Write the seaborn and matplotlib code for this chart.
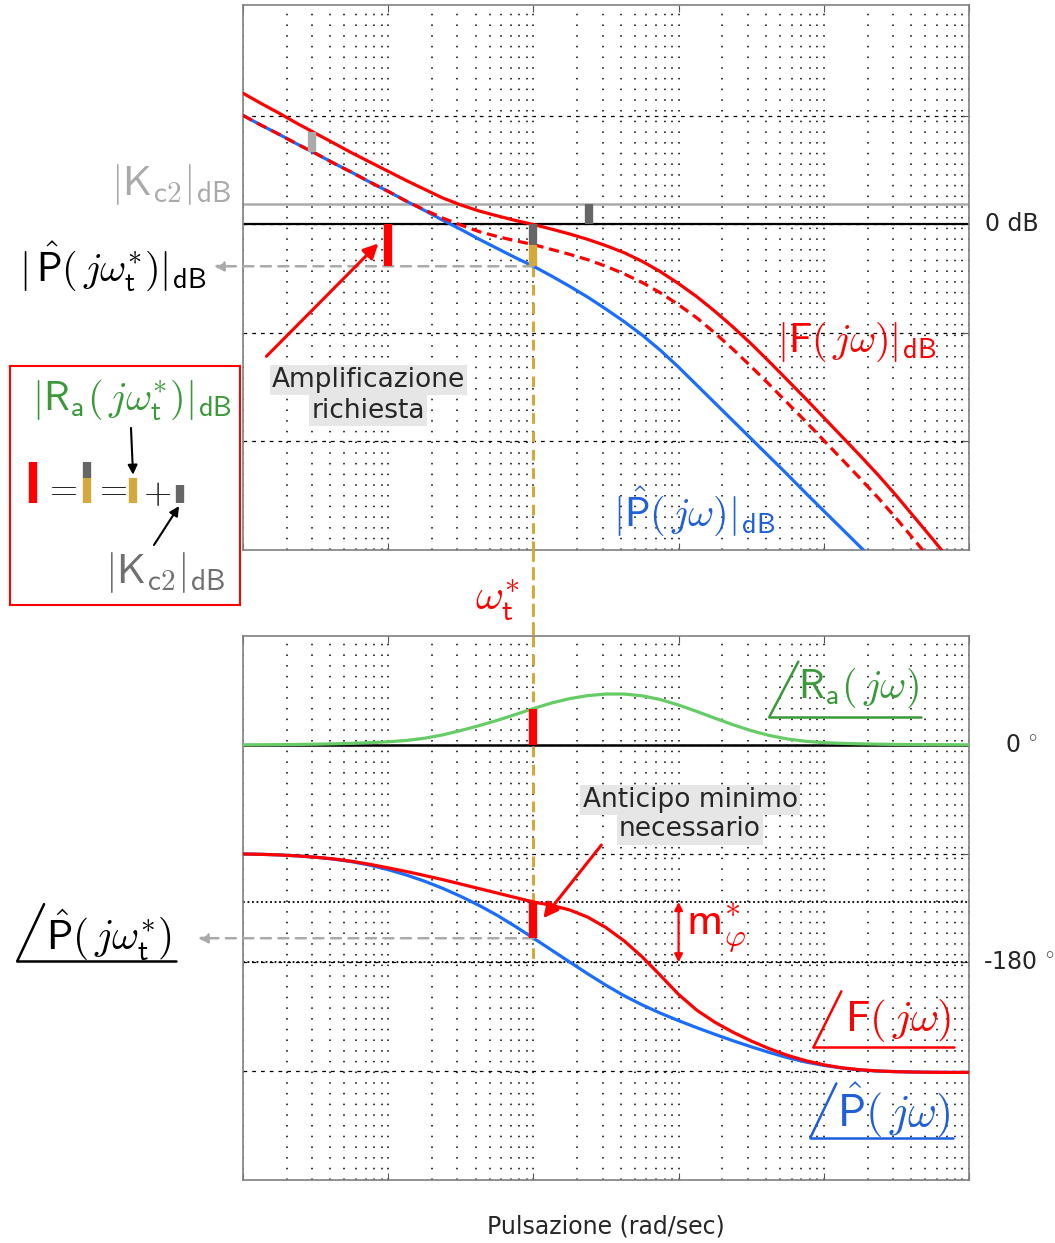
import numpy as np
import matplotlib
matplotlib.use("Agg")
import matplotlib.pyplot as plt
import matplotlib.transforms as mtrans
from matplotlib.ticker import LogLocator
from matplotlib.patches import ConnectionPatch
import seaborn as sns

# values, eighth of a decade apart (rad/sec)
w = [0.01, 0.01334, 0.01778, 0.02371, 0.03162, 0.04217, 0.05623, 0.07499,
     0.1, 0.1334, 0.1778, 0.2371, 0.3162, 0.4217, 0.5623, 0.7499,
     1.0, 1.334, 1.778, 2.371, 3.162, 4.217, 5.623, 7.499,
     10.0, 13.34, 17.78, 23.71, 31.62, 42.17, 56.23, 74.99,
     100.0, 133.4, 177.8, 237.1, 316.2, 421.7, 562.3, 749.9, 1000.0]

mag_P = [20.1, 18.3, 16.6, 14.8, 13.1, 11.3, 9.6, 7.8,
         6.1, 4.3, 2.6, 0.8, -0.9, -2.7, -4.4, -6.1,
         -7.7, -9.5, -11.4, -13.4, -15.6, -17.9, -20.4, -23.2,
         -26.3, -29.6, -32.9, -36.2, -39.5, -42.8, -46.1, -49.5,
         -52.8, -56.1, -59.4, -62.7, -66.0, -69.3, -72.6, -75.9, -79.2]
mag_F = [24.2, 22.3, 20.5, 18.6, 16.8, 15.0, 13.2, 11.5,
         9.8, 8.1, 6.5, 4.9, 3.6, 2.5, 1.6, 0.75,
         0.0, -0.85, -1.75, -2.75, -3.9, -5.2, -6.8, -8.7,
         -10.9, -13.3, -16.0, -18.9, -22.0, -25.3, -28.7, -32.1,
         -35.6, -39.1, -42.6, -46.2, -50.0, -54.0, -58.0, -62.1, -66.3]
mag_F_noK = [20.1, 18.3, 16.6, 14.8, 13.1, 11.3, 9.6, 7.8,
             6.1, 4.3, 2.7, 1.2, -0.1, -1.3, -2.2, -3.0,
             -3.7, -4.6, -5.5, -6.5, -7.7, -9.1, -10.7, -12.6,
             -14.8, -17.2, -20.0, -23.0, -26.2, -29.5, -32.9, -36.3,
             -39.8, -43.3, -46.8, -50.4, -54.2, -58.2, -62.2, -66.3, -70.5]

phase_P = [-90.3, -90.6, -91.1, -91.9, -93.0, -94.6, -96.7, -99.6,
           -103.3, -107.7, -112.8, -118.7, -125.4, -132.8, -141.0, -150.2,
           -159.9, -169.8, -179.7, -189.5, -198.9, -207.6, -215.2, -222.0,
           -228.2, -234.0, -239.5, -244.8, -249.8, -254.5, -258.8, -262.4,
           -265.2, -267.4, -269.0, -269.9, -270.4, -270.7, -270.9, -271.0, -271.0]
phase_F = [-90.3, -90.6, -91.1, -91.9, -93.0, -94.4, -96.4, -98.9,
           -101.8, -104.8, -108.1, -111.5, -115.2, -118.9, -122.6, -126.3,
           -130.0, -132.8, -136.6, -142.6, -151.2, -162.2, -175.5, -190.8,
           -206.5, -219.5, -229.5, -237.8, -245.0, -251.4, -256.9, -261.3,
           -264.7, -267.2, -268.8, -269.8, -270.4, -270.7, -270.9, -271.0, -271.0]
phase_Ra = [0.0, 0.05, 0.15, 0.3, 0.5, 0.8, 1.2, 1.8,
            2.5, 3.6, 5.4, 8.2, 11.8, 15.8, 20.2, 25.0,
            30.0, 34.6, 38.2, 40.7, 42.0, 42.0, 40.5, 37.4,
            32.9, 27.6, 22.0, 16.6, 11.7, 7.7, 4.8, 2.9,
            1.8, 1.2, 0.8, 0.5, 0.3, 0.2, 0.1, 0.05, 0.0]

wt = 1.0
Kc2_dB = 3.7
P_wt_dB = -7.7
w_ampl = 0.1
w_kc2 = 2.4
w_kc2_low = 0.03
P_low_dB = 13.4
P_wt_phase = -160
Ra_wt_phase = 30
m_phi = 50

RED = "#ff0000"
BLUE = "#1a6dff"
BLUE_TXT = "#1f5fd9"
GREEN = "#66cc66"
GREEN_TXT = "#3a9a3a"
GOLD = "#d4a83a"
DGRAY = "#666666"
LGRAY = "#aaaaaa"
LBL = 29

sns.set_style("white")
plt.rcParams["font.family"] = ["DejaVu Sans"]
plt.rcParams["mathtext.fontset"] = "cm"

fig = plt.figure(figsize=(10.55, 12.43), dpi=100)
ax1 = fig.add_axes([243 / 1055, 1 - 550 / 1243, 726 / 1055, 545 / 1243])
ax2 = fig.add_axes([243 / 1055, 1 - 1180 / 1243, 726 / 1055, 544 / 1243])

for ax in (ax1, ax2):
    ax.set_xscale("log")
    ax.set_xlim(0.01, 1000)
    ax.xaxis.set_major_locator(LogLocator(base=10, numticks=10))
    ax.xaxis.set_minor_locator(LogLocator(base=10, subs=np.arange(2, 10), numticks=10))
    ax.grid(True, which="both", axis="x", color="k", lw=1.1, ls=(0, (1, 6)))
    ax.grid(True, which="major", axis="y", color="k", lw=0.9, ls=(0, (3, 4)))
    ax.set_axisbelow(True)
    ax.tick_params(which="major", direction="in", length=5, top=True, bottom=True,
                   left=False, right=True, labelbottom=False, labelleft=False, color="#555555")
    ax.tick_params(which="minor", length=0)
    for s in ax.spines.values():
        s.set_color("#808080")
        s.set_linewidth(1.2)

# ---------------- magnitude ----------------
ax1.set_ylim(-60, 40.46)
ax1.set_yticks([-40, -20, 0, 20])
ax1.axhline(Kc2_dB, color=LGRAY, lw=1.8, zorder=2)
ax1.axhline(0, color="k", lw=1.6, zorder=2)

sns.lineplot(x=w, y=mag_P, ax=ax1, color=BLUE, lw=2.3, zorder=3)
sns.lineplot(x=w, y=mag_F_noK, ax=ax1, color=RED, lw=2.3, linestyle=(0, (3.2, 1.8)), zorder=4)
sns.lineplot(x=w, y=mag_F, ax=ax1, color=RED, lw=2.3, zorder=4)

ax1.vlines([w_kc2_low], [P_low_dB], [P_low_dB + Kc2_dB], color=LGRAY, lw=6, zorder=5)
ax1.vlines([w_kc2], [0], [Kc2_dB], color=DGRAY, lw=6, zorder=5)
ax1.vlines([w_ampl], [P_wt_dB], [0], color=RED, lw=6, zorder=5)
ax1.vlines([wt], [-Kc2_dB], [0], color=DGRAY, lw=6, zorder=5)
ax1.vlines([wt], [P_wt_dB], [-Kc2_dB], color=GOLD, lw=6, zorder=5)

# gold dashed line from P(j wt) down to -180 deg
gold_ls = (0, (3.5, 2.5))
ax1.plot([wt, wt], [P_wt_dB, -60], color=GOLD, lw=2.2, ls=gold_ls, zorder=2.5)
ax2.plot([wt, wt], [90, -180], color=GOLD, lw=2.2, ls=gold_ls, zorder=2.5)
con = ConnectionPatch(xyA=(wt, -60), coordsA=ax1.transData, xyB=(wt, 90), coordsB=ax2.transData,
                      color=GOLD, lw=2.2, ls=gold_ls)
fig.add_artist(con)

# gray dashed arrow to the left label
ax1.annotate("", xy=(-0.04, P_wt_dB), xycoords=("axes fraction", "data"),
             xytext=(wt, P_wt_dB), textcoords="data",
             arrowprops=dict(arrowstyle="-|>", color=LGRAY, lw=1.8, ls=(0, (4, 3)),
                             mutation_scale=14, shrinkA=0, shrinkB=0), annotation_clip=False)

tr1 = mtrans.blended_transform_factory(ax1.transAxes, ax1.transData)
ax1.text(1.022, 0, "0 dB", transform=tr1, ha="left", va="center", fontsize=17)
ax1.text(-0.015, 7.4, r"$|\mathsf{K}_{\mathsf{c2}}|_{\mathsf{dB}}$", transform=tr1,
         ha="right", va="center", fontsize=LBL + 1, color=LGRAY)
ax1.text(-0.05, P_wt_dB, r"$|\,\hat{\mathsf{P}}(\,j\omega^{\ast}_{\mathsf{t}})|_{\mathsf{dB}}$",
         transform=tr1, ha="right", va="center", fontsize=LBL, color="k")

ax1.text(168, -21.6, r"$|\mathsf{F}(\,j\omega)|_{\mathsf{dB}}$", ha="center", va="center",
         fontsize=LBL, color=RED)
ax1.text(12.8, -52.9, r"$|\hat{\mathsf{P}}(\,j\omega)|_{\mathsf{dB}}$", ha="center", va="center",
         fontsize=LBL, color=BLUE_TXT)

box = dict(facecolor="#e6e6e6", edgecolor="none", pad=1.5)
ax1.text(0.073, -28.6, "Amplificazione", ha="center", va="center", fontsize=19, bbox=box)
ax1.text(0.073, -34.3, "richiesta", ha="center", va="center", fontsize=19, bbox=box)
ax1.annotate("", xy=(0.0856, -3.5), xytext=(0.0145, -24.3),
             arrowprops=dict(arrowstyle="-|>", color=RED, lw=2.2, mutation_scale=22,
                             shrinkA=0, shrinkB=0))

# ---------------- phase ----------------
ax2.set_ylim(-360, 90)
ax2.set_yticks([-270, -180, -90, 0])
ax2.axhline(0, color="k", lw=1.8, zorder=2)
ax2.axhline(-180, color="k", lw=1.3, ls=(0, (1, 1.5)), zorder=2)
ax2.axhline(P_wt_phase + Ra_wt_phase, color="k", lw=1.3, ls=(0, (1, 1.5)), zorder=2)

sns.lineplot(x=w, y=phase_P, ax=ax2, color=BLUE, lw=2.3, zorder=3)
sns.lineplot(x=w, y=phase_F, ax=ax2, color=RED, lw=2.3, zorder=4)
sns.lineplot(x=w, y=phase_Ra, ax=ax2, color=GREEN, lw=2.3, zorder=4)

ax2.vlines([wt], [0], [Ra_wt_phase], color=RED, lw=6, zorder=5)
ax2.vlines([wt], [P_wt_phase], [P_wt_phase + Ra_wt_phase], color=RED, lw=6, zorder=5)

ax2.annotate("", xy=(-0.062, P_wt_phase), xycoords=("axes fraction", "data"),
             xytext=(wt, P_wt_phase), textcoords="data",
             arrowprops=dict(arrowstyle="-|>", color=LGRAY, lw=1.8, ls=(0, (4, 3)),
                             mutation_scale=14, shrinkA=0, shrinkB=0), annotation_clip=False)

ax2.annotate("", xy=(10, -180), xytext=(10, -180 + m_phi),
             arrowprops=dict(arrowstyle="<|-|>", color=RED, lw=1.6, mutation_scale=12,
                             shrinkA=0, shrinkB=0))
ax2.text(11.3, -150, r"$\mathsf{m}^{\ast}_{\varphi}$", ha="left", va="center", fontsize=33, color=RED)

ax2.text(12.0, -45.6, "Anticipo minimo", ha="center", va="center", fontsize=19, bbox=box)
ax2.text(12.0, -70.0, "necessario", ha="center", va="center", fontsize=19, bbox=box)
ax2.annotate("", xy=(1.17, -143.4), xytext=(2.94, -82.9),
             arrowprops=dict(arrowstyle="-|>", color=RED, lw=2.2, mutation_scale=22,
                             shrinkA=0, shrinkB=0))

tr2 = mtrans.blended_transform_factory(ax2.transAxes, ax2.transData)
ax2.text(1.05, 0, r"0 $^{\circ}$", transform=tr2, ha="left", va="center", fontsize=17)
ax2.text(1.019, -180, r"-180 $^{\circ}$", transform=tr2, ha="left", va="center", fontsize=17)

trw = mtrans.blended_transform_factory(ax2.transData, ax2.transAxes)
ax2.text(0.565, 1.066, r"$\omega^{\ast}_{\mathsf{t}}$", transform=trw, ha="center", va="center",
         fontsize=31, color=RED)

# angle labels
ax2.plot([42.2, 66.8], [23.2, 68.8], color=GREEN_TXT, lw=1.8, clip_on=False)
ax2.plot([42.2, 470], [23.2, 23.2], color=GREEN_TXT, lw=1.8, clip_on=False)
ax2.text(66, 47.2, r"$\mathsf{R}_{\mathsf{a}}(\,j\omega)$", ha="left", va="center",
         fontsize=LBL, color=GREEN_TXT)

ax2.plot([84.8, 132.2], [-250.3, -203.9], color=RED, lw=1.8, clip_on=False)
ax2.plot([84.8, 794], [-250.3, -250.3], color=RED, lw=1.8, clip_on=False)
ax2.text(141, -228, r"$\mathsf{F}(\,j\omega)$", ha="left", va="center", fontsize=LBL + 2, color=RED)

ax2.plot([80.9, 122], [-324.9, -280.1], color=BLUE_TXT, lw=1.8, clip_on=False)
ax2.plot([80.9, 781], [-324.9, -324.9], color=BLUE_TXT, lw=1.8, clip_on=False)
ax2.text(124, -302, r"$\hat{\mathsf{P}}(\,j\omega)$", ha="left", va="center",
         fontsize=LBL + 3, color=BLUE_TXT)

ax2.plot([-0.311, -0.274], [-179, -131.8], color="k", lw=1.8, transform=tr2, clip_on=False)
ax2.plot([-0.311, -0.0923], [-179, -179], color="k", lw=1.8, transform=tr2, clip_on=False)
ax2.text(-0.272, -157, r"$\hat{\mathsf{P}}(\,j\omega^{\ast}_{\mathsf{t}})$", transform=tr2,
         ha="left", va="center", fontsize=LBL + 1, color="k")

ax2.text(0.5, -0.085, "Pulsazione (rad/sec)", transform=ax2.transAxes, ha="center",
         va="center", fontsize=17)

# ---------------- left explanation box ----------------
axl = fig.add_axes([10 / 1055, 1 - 605 / 1243, 230 / 1055, 239 / 1243])
axl.set_xlim(0, 1)
axl.set_ylim(0, 1)
axl.set_xticks([])
axl.set_yticks([])
for s in axl.spines.values():
    s.set_visible(True)
    s.set_color(RED)
    s.set_linewidth(1.5)

axl.text(0.53, 0.858, r"$|\mathsf{R}_{\mathsf{a}}(\,j\omega^{\ast}_{\mathsf{t}})|_{\mathsf{dB}}$",
         ha="center", va="center", fontsize=LBL, color=GREEN_TXT)
axl.vlines([0.10], [0.427], [0.598], color=RED, lw=6)
axl.text(0.217, 0.49, r"$=$", ha="center", va="center", fontsize=26)
axl.vlines([0.335], [0.427], [0.531], color=GOLD, lw=6)
axl.vlines([0.335], [0.531], [0.598], color=DGRAY, lw=6)
axl.text(0.435, 0.49, r"$=$", ha="center", va="center", fontsize=26)
axl.vlines([0.535], [0.427], [0.531], color=GOLD, lw=6)
axl.text(0.64, 0.47, r"$+$", ha="center", va="center", fontsize=26)
axl.vlines([0.739], [0.427], [0.502], color=DGRAY, lw=6)
axl.annotate("", xy=(0.535, 0.545), xytext=(0.526, 0.741),
             arrowprops=dict(arrowstyle="-|>", color="k", lw=1.5, mutation_scale=14,
                             shrinkA=0, shrinkB=0))
axl.annotate("", xy=(0.735, 0.414), xytext=(0.626, 0.251),
             arrowprops=dict(arrowstyle="-|>", color="k", lw=1.5, mutation_scale=14,
                             shrinkA=0, shrinkB=0))
axl.text(0.674, 0.134, r"$|\mathsf{K}_{\mathsf{c2}}|_{\mathsf{dB}}$", ha="center", va="center",
         fontsize=LBL + 1, color="#707070")

fig.savefig("out.png", dpi=100)
